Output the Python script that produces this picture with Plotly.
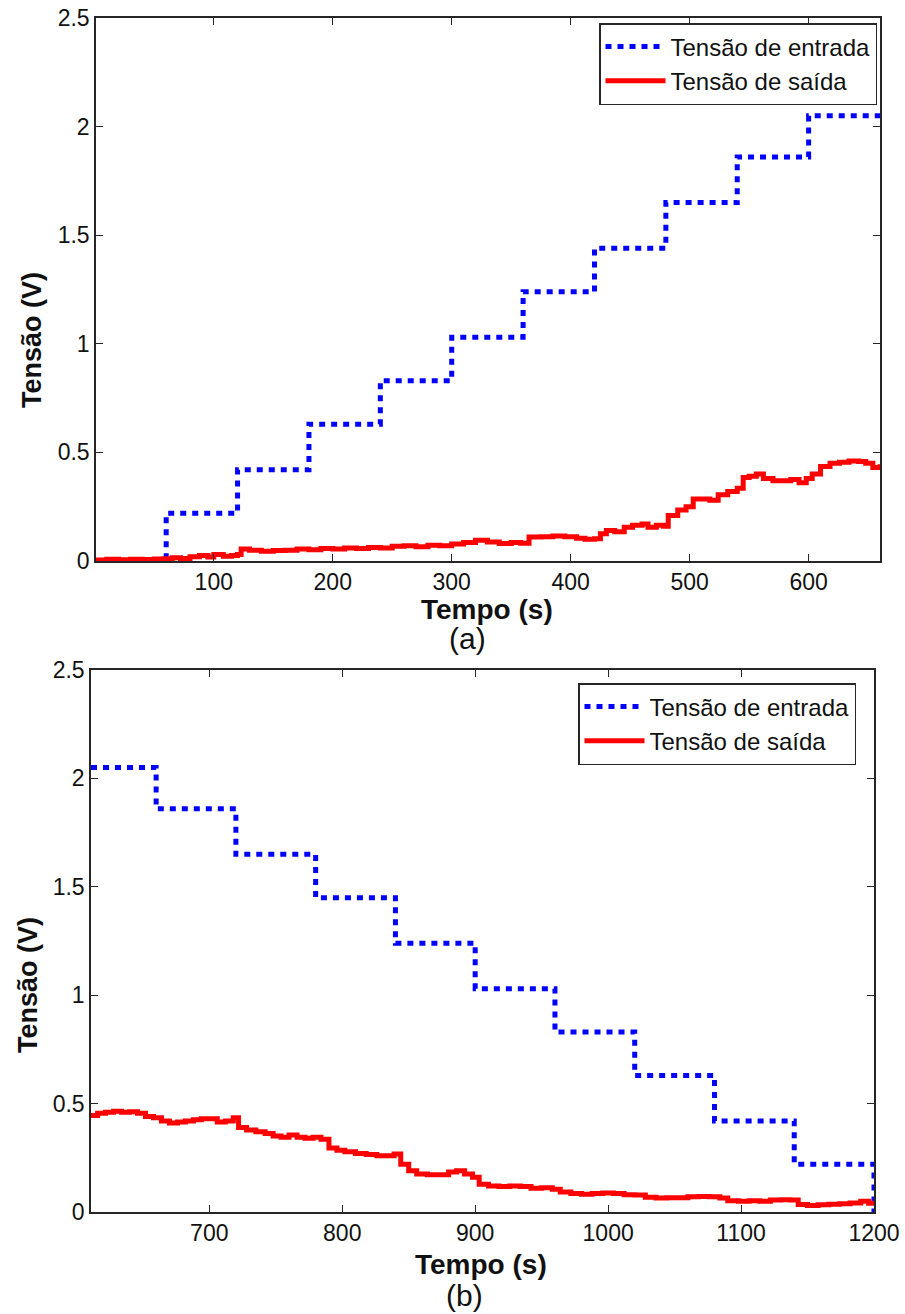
import plotly.graph_objects as go

W, H = 905, 1314

# ---------------- data: panel (a) ----------------
t_in_a = [1, 60, 120, 180, 240, 300, 360, 420, 480, 540, 600, 660]
v_in_a = [0.0, 0.22, 0.42, 0.63, 0.83, 1.03, 1.24, 1.44, 1.65, 1.86, 2.05, 2.05]

t_out_a = [1, 10, 20, 30, 40, 50, 58, 65, 72, 80, 88, 95, 100, 108, 115, 120, 123, 130, 140,
           150, 160, 170, 180, 190, 200, 210, 220, 230, 240, 250, 260, 270, 280, 290, 300,
           310, 320, 330, 340, 350, 358, 365, 375, 385, 395, 405, 412, 420, 425, 430, 437,
           445, 452, 460, 465, 472, 478, 482, 490, 497, 503, 510, 517, 524, 532, 540, 545,
           550, 556, 562, 570, 578, 585, 592, 598, 603, 610, 618, 626, 634, 642, 648, 654, 660]
v_out_a = [0.005, 0.008, 0.006, 0.008, 0.007, 0.009, 0.010, 0.015, 0.012, 0.020, 0.025, 0.018,
           0.030, 0.022, 0.025, 0.030, 0.055, 0.050, 0.045, 0.048, 0.050, 0.055, 0.052, 0.058,
           0.055, 0.060, 0.058, 0.062, 0.060, 0.068, 0.070, 0.066, 0.072, 0.070, 0.078, 0.085,
           0.095, 0.088, 0.080, 0.085, 0.082, 0.110, 0.112, 0.115, 0.112, 0.105, 0.100, 0.102,
           0.125, 0.140, 0.135, 0.155, 0.165, 0.170, 0.155, 0.165, 0.160, 0.210, 0.235, 0.250,
           0.285, 0.285, 0.280, 0.305, 0.320, 0.335, 0.385, 0.390, 0.400, 0.380, 0.370, 0.370,
           0.375, 0.360, 0.380, 0.400, 0.435, 0.450, 0.455, 0.460, 0.458, 0.450, 0.430, 0.445]

# ---------------- data: panel (b) ----------------
t_in_b = [611, 660, 720, 780, 840, 900, 960, 1020, 1080, 1140, 1200]
v_in_b = [2.05, 1.86, 1.65, 1.45, 1.24, 1.03, 0.83, 0.63, 0.42, 0.22, 0.0]

t_out_b = [611, 616, 622, 628, 634, 640, 646, 652, 658, 664, 670, 676, 682, 688, 694, 700, 706,
           712, 718, 722, 728, 735, 742, 748, 754, 760, 766, 772, 778, 784, 790, 796, 802, 810,
           818, 826, 834, 839, 844, 850, 856, 864, 872, 880, 886, 892, 898, 903, 910, 918, 926,
           934, 942, 950, 958, 964, 972, 980, 988, 996, 1004, 1012, 1020, 1028, 1036, 1044,
           1052, 1060, 1068, 1076, 1084, 1090, 1098, 1106, 1114, 1122, 1130, 1137, 1143, 1150,
           1158, 1166, 1174, 1182, 1190, 1196, 1200]
v_out_b = [0.445, 0.455, 0.460, 0.465, 0.460, 0.462, 0.455, 0.440, 0.435, 0.420, 0.410, 0.415,
           0.420, 0.425, 0.430, 0.430, 0.415, 0.420, 0.435, 0.390, 0.378, 0.370, 0.362, 0.350,
           0.345, 0.355, 0.345, 0.340, 0.345, 0.335, 0.295, 0.285, 0.278, 0.270, 0.265, 0.260,
           0.260, 0.268, 0.220, 0.190, 0.175, 0.172, 0.172, 0.185, 0.190, 0.175, 0.160, 0.128,
           0.120, 0.118, 0.120, 0.118, 0.110, 0.112, 0.105, 0.092, 0.085, 0.082, 0.085, 0.088,
           0.085, 0.080, 0.078, 0.068, 0.065, 0.066, 0.066, 0.070, 0.072, 0.070, 0.065, 0.052,
           0.050, 0.052, 0.050, 0.055, 0.056, 0.055, 0.035, 0.030, 0.033, 0.036, 0.038, 0.042,
           0.050, 0.040, 0.040]

x_ticks_a = [100, 200, 300, 400, 500, 600]
x_ticks_b = [700, 800, 900, 1000, 1100, 1200]
y_ticks = [0, 0.5, 1, 1.5, 2, 2.5]
y_ticktext = ["0", "0.5", "1", "1.5", "2", "2.5"]

name_in = "Tensão de entrada"
name_out = "Tensão de saída"

FONT = "Liberation Sans, Arial, sans-serif"
BLUE = "#0000ff"
RED = "#ff0000"
AX = "#262626"

fig = go.Figure()
fig.add_trace(go.Scatter(x=t_in_a, y=v_in_a, mode="lines", line_shape="hv", name=name_in,
                         line=dict(color=BLUE, width=5, dash="6px,6px"),
                         xaxis="x", yaxis="y", legend="legend"))
fig.add_trace(go.Scatter(x=t_out_a, y=v_out_a, mode="lines", line_shape="hv", name=name_out,
                         line=dict(color=RED, width=5), xaxis="x", yaxis="y", legend="legend"))
fig.add_trace(go.Scatter(x=t_in_b, y=v_in_b, mode="lines", line_shape="hv", name=name_in,
                         line=dict(color=BLUE, width=5, dash="6px,6px"),
                         xaxis="x2", yaxis="y2", legend="legend2"))
fig.add_trace(go.Scatter(x=t_out_b, y=v_out_b, mode="lines", line_shape="hv", name=name_out,
                         line=dict(color=RED, width=5), xaxis="x2", yaxis="y2", legend="legend2"))


def px(x):
    return x / W


def py(y):
    return 1 - y / H


axis_common = dict(showline=True, linecolor=AX, linewidth=1.5, mirror="ticks", ticks="inside",
                   ticklen=7, tickwidth=1.3, tickcolor=AX, showgrid=False, zeroline=False,
                   automargin=False,
                   tickfont=dict(family=FONT, size=23, color="#111"))

legend_common = dict(xanchor="left", yanchor="top", bgcolor="white",
                     bordercolor=AX, borderwidth=1.5, itemwidth=60, tracegroupgap=0,
                     font=dict(family=FONT, size=24, color="#111"))

fig.update_layout(
    width=W, height=H, margin=dict(l=0, r=0, t=0, b=0, autoexpand=False),
    paper_bgcolor="white", plot_bgcolor="white",
    xaxis=dict(domain=[px(96), px(880)], range=[1, 660], tickvals=x_ticks_a, anchor="y", **axis_common),
    yaxis=dict(domain=[py(561), py(18)], range=[0, 2.5], tickvals=y_ticks, ticktext=y_ticktext,
               anchor="x", **axis_common),
    xaxis2=dict(domain=[px(91), px(874)], range=[611, 1200], tickvals=x_ticks_b, anchor="y2", **axis_common),
    yaxis2=dict(domain=[py(1212), py(670)], range=[0, 2.5], tickvals=y_ticks, ticktext=y_ticktext,
                anchor="x2", **axis_common),
    legend=dict(x=px(599), y=py(23), **legend_common),
    legend2=dict(x=px(578), y=py(683), **legend_common),
    showlegend=True,
)

ann = []
title_font = dict(family=FONT, size=28, color="#111")
ytitle_font = dict(family=FONT, size=27, color="#111")
label_font = dict(family=FONT, size=30, color="#111")
for (xc, yc, txt, ang, f) in [
    (487, 609, "<b>Tempo (s)</b>", 0, title_font),
    (468, 639, "(a)", 0, label_font),
    (32, 340, "<b>Tensão (V)</b>", -90, ytitle_font),
    (481, 1264, "<b>Tempo (s)</b>", 0, title_font),
    (464, 1295, "(b)", 0, label_font),
    (28, 985, "<b>Tensão (V)</b>", -90, ytitle_font),
]:
    ann.append(dict(x=px(xc), y=py(yc), xref="paper", yref="paper", text=txt, textangle=ang,
                    showarrow=False, xanchor="center", yanchor="middle", font=f))
fig.update_layout(annotations=ann)

fig.write_html("out.html")
